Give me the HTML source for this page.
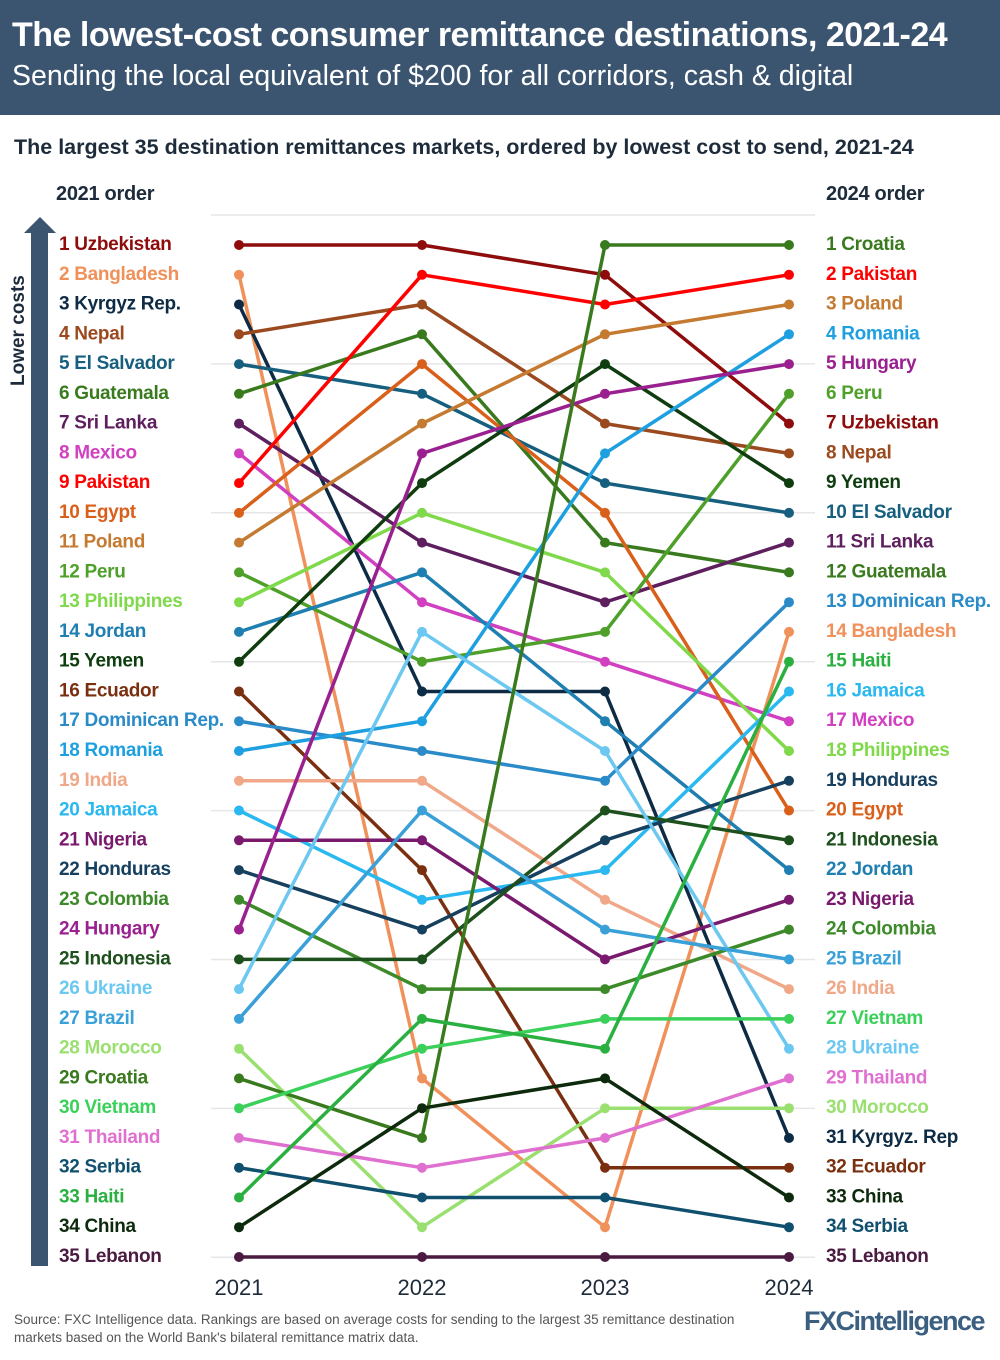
<!DOCTYPE html>
<html><head><meta charset="utf-8">
<style>
body{margin:0;width:1000px;height:1360px;background:#fff;font-family:"Liberation Sans",sans-serif;overflow:hidden;position:relative}
.hdr{position:absolute;left:0;top:0;width:1000px;height:115px;background:#3b5570;color:#fff}
.t1{position:absolute;left:12px;top:16px;font-size:34px;font-weight:bold;white-space:nowrap;letter-spacing:-0.5px}
.t2{position:absolute;left:12px;top:60px;font-size:28.5px;white-space:nowrap}
.sub{position:absolute;left:14px;top:135px;font-size:21.5px;font-weight:bold;color:#1d2b3a;white-space:nowrap}
.foot{position:absolute;left:14px;top:1311px;font-size:13.5px;color:#555;line-height:18px;width:760px}
.logo{position:absolute;left:804px;top:1306px;font-size:27px;font-weight:bold;color:#3b5f80;letter-spacing:-1.5px}
</style></head><body>
<div class="hdr"><div class="t1">The lowest-cost consumer remittance destinations, 2021-24</div>
<div class="t2">Sending the local equivalent of $200 for all corridors, cash &amp; digital</div></div>
<div class="sub">The largest 35 destination remittances markets, ordered by lowest cost to send, 2021-24</div>
<svg id="s" width="1000" height="1360" style="position:absolute;left:0;top:0" font-family="Liberation Sans, sans-serif"></svg>
<div class="foot">Source: FXC Intelligence data. Rankings are based on average costs for sending to the largest 35 remittance destination markets based on the World Bank's bilateral remittance matrix data.</div>
<div class="logo">FXCintelligence</div>
<script>
var d=[
["Uzbekistan","#8e0c0c",[1,1,2,7]],
["Bangladesh","#f0905a",[2,29,34,14]],
["Kyrgyz Rep.","#0d2b45",[3,16,16,31],"Kyrgyz. Rep"],
["Nepal","#9a4a1e",[4,3,7,8]],
["El Salvador","#165f7e",[5,6,9,10]],
["Guatemala","#3a7a1e",[6,4,11,12]],
["Sri Lanka","#5e1f5e",[7,11,13,11]],
["Mexico","#d040c0",[8,13,15,17]],
["Pakistan","#ff0000",[9,2,3,2]],
["Egypt","#d9601a",[10,5,10,20]],
["Poland","#c47a30",[11,7,4,3]],
["Peru","#4ea02a",[12,15,14,6]],
["Philippines","#7fd94a",[13,10,12,18]],
["Jordan","#1e7fb0",[14,12,17,22]],
["Yemen","#0f3d0f",[15,9,5,9]],
["Ecuador","#7a3010",[16,22,32,32]],
["Dominican Rep.","#2a8bc8",[17,18,19,13]],
["Romania","#1ea0e0",[18,17,8,4]],
["India","#f0a888",[19,19,23,26]],
["Jamaica","#2ab8f0",[20,23,22,16]],
["Nigeria","#7a1a6e",[21,21,25,23]],
["Honduras","#16405e",[22,24,21,19]],
["Colombia","#3d8a2a",[23,26,26,24]],
["Hungary","#9a2090",[24,8,6,5]],
["Indonesia","#1d501d",[25,25,20,21]],
["Ukraine","#6cc8f0",[26,14,18,28]],
["Brazil","#3aa0d8",[27,20,24,25]],
["Morocco","#9ae070",[28,34,30,30]],
["Croatia","#3a7a1e",[29,31,1,1]],
["Vietnam","#3ad05a",[30,28,27,27]],
["Thailand","#e070d0",[31,32,31,29]],
["Serbia","#10506e",[32,33,33,34]],
["Haiti","#2ab040",[33,27,28,15]],
["China","#0d2a0d",[34,30,29,33]],
["Lebanon","#4a1a40",[35,35,35,35]]];
var X=[239,422,605,789],Y=function(r){return 245+(r-1)*29.765};
var h='';
for(var g=0;g<8;g++){var gy=215+g*148.9;h+='<line x1="211" x2="815" y1="'+gy+'" y2="'+gy+'" stroke="#e6e6e6" stroke-width="1.5"/>';}
h+='<rect x="31" y="232" width="17" height="1034" fill="#3b5570"/><polygon points="24,233 40,217 56,233" fill="#3b5570"/>';
h+='<text transform="translate(24,386) rotate(-90)" font-size="19" font-weight="bold" fill="#1d2b3a">Lower costs</text>';
h+='<text x="56" y="200" font-size="20" font-weight="bold" fill="#1d2b3a" letter-spacing="-0.3">2021 order</text>';
h+='<text x="826" y="200" font-size="20" font-weight="bold" fill="#1d2b3a" letter-spacing="-0.3">2024 order</text>';
["2021","2022","2023","2024"].forEach(function(t,i){h+='<text x="'+X[i]+'" y="1295" font-size="22" fill="#1d2b3a" text-anchor="middle">'+t+'</text>';});
var lines='',dots='',lab='';
d.forEach(function(c){
 var p=c[2].map(function(r,i){return X[i]+','+Y(r).toFixed(1)}).join(' ');
 lines+='<polyline points="'+p+'" fill="none" stroke="'+c[1]+'" stroke-width="3.5" stroke-linejoin="round"/>';
 c[2].forEach(function(r,i){dots+='<circle cx="'+X[i]+'" cy="'+Y(r).toFixed(1)+'" r="5" fill="'+c[1]+'"/>';});
 lab+='<text x="59" y="'+(Y(c[2][0])+5).toFixed(1)+'" font-size="19" font-weight="bold" letter-spacing="-0.3" fill="'+c[1]+'">'+c[2][0]+' '+c[0]+'</text>';
 lab+='<text x="826" y="'+(Y(c[2][3])+5).toFixed(1)+'" font-size="19" font-weight="bold" letter-spacing="-0.3" fill="'+c[1]+'">'+c[2][3]+' '+(c[3]||c[0])+'</text>';
});
document.getElementById('s').innerHTML=h+lines+dots+lab;
</script>
</body></html>
